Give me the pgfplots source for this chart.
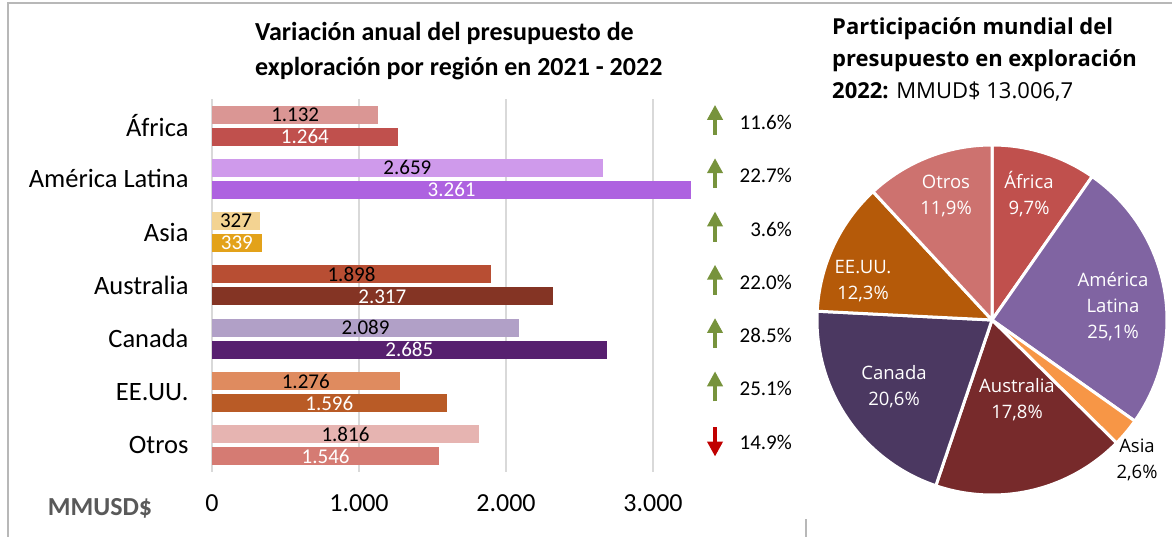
\documentclass[border=0pt]{standalone}
\usepackage{pgfplots}
\pgfplotsset{compat=1.18}
\usepackage{pgfplotstable}
\usepackage{fontspec}
\setmainfont{Carlito}
\newfontfamily\osans{Open Sans}
\usetikzlibrary{arrows.meta}

% 2021 (a) and 2022 (b) bar colours, row 0 = Otros ... row 6 = Africa
\definecolor{a6}{HTML}{DA9694}\definecolor{b6}{HTML}{C0504D}
\definecolor{a5}{HTML}{CF9AEB}\definecolor{b5}{HTML}{AE62E0}
\definecolor{a4}{HTML}{F3D392}\definecolor{b4}{HTML}{E3A21A}
\definecolor{a3}{HTML}{B84E33}\definecolor{b3}{HTML}{843424}
\definecolor{a2}{HTML}{B1A0C7}\definecolor{b2}{HTML}{57206F}
\definecolor{a1}{HTML}{DF8B5F}\definecolor{b1}{HTML}{B95B26}
\definecolor{a0}{HTML}{E6B4B1}\definecolor{b0}{HTML}{D57B73}
% pie
\definecolor{pAfr}{HTML}{C0504D}
\definecolor{pAml}{HTML}{8064A2}
\definecolor{pAsi}{HTML}{F79646}
\definecolor{pAus}{HTML}{772A2B}
\definecolor{pCan}{HTML}{4B3861}
\definecolor{pEEU}{HTML}{B55A09}
\definecolor{pOtr}{HTML}{CD726F}
\definecolor{upgreen}{HTML}{77933C}
\definecolor{downred}{HTML}{C00000}

\pgfplotsset{/pgf/number format/1000 sep={.}, /pgf/number format/assume math mode=true}

\pgfplotstableread{
c v21 v22 p
6 1132 1264 11.6
5 2659 3261 22.7
4 327 339 3.6
3 1898 2317 22.0
2 2089 2685 28.5
1 1276 1596 25.1
0 1816 1546 14.9
}\bars

\begin{document}
\begin{tikzpicture}
\useasboundingbox (0pt,0pt) rectangle (1172pt,537pt);
\draw[black!28, line width=1.5pt] (8pt,0pt) -- (8pt,534pt) -- (1172pt,534pt);
\draw[black!28, line width=1.5pt] (806pt,0pt) -- (806pt,18pt);

\node[anchor=west, align=left, inner sep=0, font=\fontsize{26}{35}\selectfont\bfseries]
  at (255pt,486pt) {Variación anual del presupuesto de\\exploración por región en 2021 - 2022};
\node[font=\fontsize{26}{30}\selectfont\bfseries, text=black!65] at (100pt,29pt) {MMUSD\$};

\begin{axis}[
    at={(212pt,65pt)}, anchor=south west,
    scale only axis, width=485.1pt, height=373pt,
    xmin=0, xmax=3300, ymin=-0.5, ymax=6.5,
    clip=false,
    axis line style={draw=none},
    major tick length=0pt,
    xtick={0,1000,2000,3000},
    ytick={0,1,2,3,4,5,6},
    yticklabels={Otros,EE.UU.,Canada,Australia,Asia,América Latina,África},
    xmajorgrids,
    grid style={draw=black!15, line width=1.6pt},
    tick label style={font=\fontsize{26}{30}\selectfont},
    yticklabel style={xshift=-20pt, font=\fontsize{26.5}{30}\selectfont},
    xticklabel style={yshift=-19pt},
]
\pgfplotsinvokeforeach{0,1,2,3,4,5,6}{
  \addplot[xbar, bar width=18pt, bar shift=11pt, fill=a#1, draw=none,
    restrict y to domain=#1:#1] table[x=v21, y=c]{\bars};
  \addplot[xbar, bar width=18pt, bar shift=-11pt, fill=b#1, draw=none,
    restrict y to domain=#1:#1] table[x=v22, y=c]{\bars};
}
% values centred on the bars
\addplot[draw=none, mark=none, nodes near coords, point meta=\thisrow{v21},
  nodes near coords style={anchor=center, text=black, font=\fontsize{21}{24}\selectfont}]
  table[x expr=\thisrow{v21}/2, y expr=\thisrow{c}+0.207]{\bars};
\addplot[draw=none, mark=none, nodes near coords, point meta=\thisrow{v22},
  nodes near coords style={anchor=center, text=white, font=\fontsize{21}{24}\selectfont}]
  table[x expr=\thisrow{v22}/2, y expr=\thisrow{c}-0.207]{\bars};
% variation
\addplot[draw=none, mark=none, point meta=\thisrow{p},
  nodes near coords={\pgfmathprintnumber[fixed,fixed zerofill,precision=1]{\pgfplotspointmeta}\%},
  nodes near coords style={anchor=east, inner sep=0pt, text=black, font=\fontsize{21}{24}\selectfont}]
  table[x expr=3946, y expr=\thisrow{c}+0.06]{\bars};
\pgfplotsinvokeforeach{1,2,3,4,5,6}{
  \draw[upgreen, line width=4.7pt, -{Triangle[width=15pt,length=15pt]}]
    (axis cs:3422,#1-0.175) -- (axis cs:3422,#1+0.39);
}
\draw[downred, line width=4.7pt, -{Triangle[width=15pt,length=15pt]}]
  (axis cs:3422,0.34) -- (axis cs:3422,-0.21);
\end{axis}

\node[anchor=north west, align=left, inner sep=0, font=\osans\fontsize{22}{32}\selectfont]
  at (832pt,520pt) {\textbf{Participación mundial del}\\\textbf{presupuesto en exploración}\\\textbf{2022:} MMUD\$ 13.006,7};

\begin{axis}[
    at={(992pt,217pt)}, anchor=center,
    scale only axis, width=350pt, height=350pt,
    hide axis, clip=false,
    xmin=-1, xmax=1, ymin=-1, ymax=1,
]
\addplot[draw=none, mark=none] coordinates {(0,0)};
\pgfplotsextra{
  \gdef\pstart{90}
  \foreach \p/\col/\lx/\ly/\nm/\tc in {
      9.7/pAfr/37/126/{África}/white,
      25.1/pAml/121/13/{América\\Latina}/white,
      2.6/pAsi/145/-140/{Asia}/black,
      17.8/pAus/25/-80/{Australia}/white,
      20.6/pCan/-98/-67/{Canada}/white,
      12.3/pEEU/-129/39/{EE.UU.}/white,
      11.9/pOtr/-46/124/{Otros}/white}{
    \pgfmathsetmacro\pend{\pstart-3.6*\p}
    \filldraw[fill=\col, draw=white, line width=3pt, line join=round]
      (axis cs:0,0) -- ([shift={(\pstart:175pt)}]axis cs:0,0)
      arc[start angle=\pstart, end angle=\pend, radius=175pt] -- cycle;
    \node[align=center, text=\tc, font=\osans\fontsize{18.5}{26}\selectfont]
      at ([shift={(\lx pt,\ly pt)}]axis cs:0,0)
      {\nm\\\pgfmathprintnumber[use comma,fixed,fixed zerofill,precision=1]{\p}\%};
    \global\let\pstart\pend
  }
}
\end{axis}
\end{tikzpicture}
\end{document}
